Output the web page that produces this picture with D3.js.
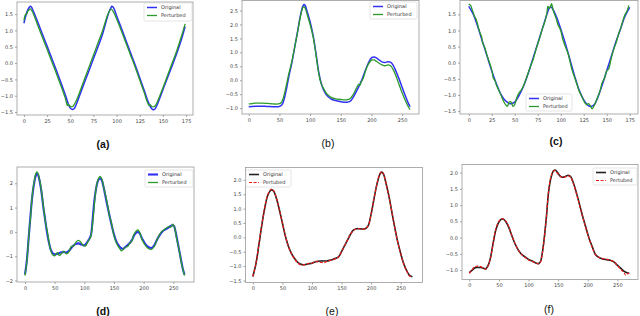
<!DOCTYPE html>
<html lang="en">
<head>
<meta charset="UTF-8">
<script src="https://d3js.org/d3.v7.min.js"></script>
<title>Original vs Perturbed</title>
<style>
    body { margin: 0; background: white; }
    svg { display: block; }
    .tick text { font-family: "DejaVu Sans", sans-serif; font-size: 5px; fill: #444; }
    .legend text { font-family: "DejaVu Sans", sans-serif; font-size: 5px; fill: #333; }
    .plabel { font-family: "Liberation Sans", Arial, sans-serif; font-size: 10.5px; fill: #111; }
</style>
</head>
<body>
<svg id="chart" width="640" height="316"></svg>
<script>
// ---- data ----
const aOriginal = [[0,1.22],[2,1.45],[4,1.62],[6,1.72],[7,1.74],[8,1.72],[10,1.6],[15,1.25],[20,0.88],[25,0.52],[30,0.15],[35,-0.22],[40,-0.6],[45,-1.0],[48,-1.26],[50,-1.38],[52,-1.42],[54,-1.4],[56,-1.3],[60,-1.0],[65,-0.62],[70,-0.25],[75,0.13],[80,0.5],[85,0.9],[89,1.3],[92,1.58],[94,1.7],[95,1.74],[97,1.68],[100,1.45],[105,1.08],[110,0.7],[115,0.32],[120,-0.05],[125,-0.45],[130,-0.85],[134,-1.18],[137,-1.36],[139,-1.42],[141,-1.42],[143,-1.33],[146,-1.12],[150,-0.82],[155,-0.45],[160,-0.08],[165,0.3],[170,0.72],[174,1.12]];
const aPerturbed = [[0,1.3],[1,1.44],[2,1.5],[3,1.5],[4,1.58],[6,1.64],[7,1.66],[9,1.58],[12,1.38],[15,1.15],[20,0.78],[25,0.42],[30,0.05],[35,-0.32],[40,-0.7],[44,-1.02],[46,-1.22],[47,-1.3],[48,-1.26],[49,-1.3],[51,-1.34],[53,-1.32],[56,-1.18],[60,-0.9],[65,-0.52],[70,-0.14],[75,0.24],[80,0.62],[85,1.0],[88,1.28],[90,1.45],[92,1.58],[94,1.65],[96,1.6],[99,1.42],[105,1.0],[110,0.62],[115,0.25],[120,-0.12],[125,-0.52],[130,-0.92],[133,-1.18],[135,-1.3],[136,-1.27],[138,-1.33],[140,-1.34],[142,-1.3],[145,-1.12],[150,-0.76],[155,-0.38],[160,0.0],[165,0.38],[170,0.82],[174,1.2]];

const bOriginal = [[0,-0.95],[10,-0.93],[20,-0.93],[30,-0.94],[40,-0.95],[48,-0.95],[52,-0.92],[55,-0.85],[58,-0.65],[62,-0.25],[66,0.2],[70,0.6],[75,1.2],[80,1.8],[84,2.3],[88,2.65],[90,2.72],[92,2.68],[96,2.4],[100,2.1],[105,1.6],[110,0.9],[114,0.3],[118,-0.1],[122,-0.35],[126,-0.5],[130,-0.6],[135,-0.68],[140,-0.72],[150,-0.77],[160,-0.79],[165,-0.76],[170,-0.62],[175,-0.42],[180,-0.2],[185,0.05],[190,0.35],[195,0.62],[200,0.8],[204,0.83],[208,0.8],[213,0.72],[218,0.65],[222,0.64],[227,0.66],[231,0.65],[235,0.55],[240,0.32],[245,0.05],[250,-0.25],[255,-0.55],[260,-0.82],[263,-0.95]];
const bPerturbed = [[0,-0.85],[5,-0.84],[10,-0.82],[20,-0.82],[30,-0.83],[40,-0.85],[48,-0.85],[52,-0.82],[55,-0.72],[58,-0.5],[62,-0.1],[66,0.3],[70,0.65],[75,1.2],[80,1.78],[84,2.25],[88,2.6],[90,2.64],[92,2.58],[96,2.3],[100,2.0],[105,1.55],[110,0.85],[114,0.25],[118,-0.12],[122,-0.3],[126,-0.45],[130,-0.55],[135,-0.62],[140,-0.66],[150,-0.69],[160,-0.7],[165,-0.66],[170,-0.52],[174,-0.35],[177,-0.22],[179,-0.15],[181,-0.18],[183,-0.08],[187,0.1],[191,0.38],[195,0.58],[200,0.72],[204,0.73],[208,0.68],[213,0.6],[218,0.54],[222,0.52],[227,0.55],[231,0.52],[235,0.4],[240,0.15],[245,-0.15],[250,-0.45],[255,-0.72],[260,-0.95],[263,-1.05]];

const cOriginal = [[0,1.75],[5,1.5],[10,1.1],[15,0.65],[20,0.2],[25,-0.25],[30,-0.65],[35,-0.98],[40,-1.18],[45,-1.27],[50,-1.22],[55,-1.0],[60,-0.7],[65,-0.3],[70,0.15],[75,0.6],[80,1.05],[85,1.5],[88,1.72],[90,1.72],[95,1.45],[100,1.05],[105,0.6],[110,0.1],[115,-0.4],[120,-0.85],[125,-1.15],[130,-1.33],[133,-1.36],[137,-1.28],[140,-1.1],[145,-0.7],[150,-0.25],[155,0.2],[160,0.65],[165,1.05],[170,1.45],[175,1.72]];
const cPerturbed = [[0,1.82],[2,1.78],[4,1.62],[5,1.55],[6,1.45],[8,1.35],[10,1.15],[12,0.95],[14,0.8],[15,0.62],[17,0.5],[20,0.22],[22,0.05],[25,-0.22],[27,-0.5],[28,-0.52],[30,-0.68],[33,-0.88],[35,-1.0],[38,-1.2],[40,-1.3],[42,-1.35],[44,-1.22],[46,-1.22],[48,-1.35],[50,-1.3],[52,-1.1],[55,-0.92],[57,-0.85],[60,-0.68],[63,-0.45],[65,-0.28],[68,-0.05],[70,0.1],[73,0.4],[75,0.58],[78,0.85],[80,1.05],[83,1.3],[85,1.55],[86,1.75],[87,1.72],[88,1.68],[89,1.75],[90,1.83],[92,1.6],[95,1.38],[97,1.18],[100,1.0],[102,0.75],[105,0.5],[108,0.28],[110,0.05],[112,-0.2],[115,-0.45],[118,-0.7],[120,-0.88],[123,-1.05],[125,-1.18],[128,-1.3],[130,-1.27],[132,-1.32],[134,-1.43],[136,-1.35],[138,-1.22],[140,-1.08],[143,-0.85],[145,-0.62],[148,-0.45],[150,-0.25],[152,-0.2],[155,0.15],[158,0.45],[160,0.6],[163,0.9],[165,1.05],[168,1.35],[170,1.5],[172,1.6],[174,1.78]];

const dOriginal = [[0,-1.75],[3,-1.2],[6,-0.3],[9,0.6],[12,1.4],[15,1.95],[18,2.3],[20,2.4],[22,2.35],[25,2.05],[28,1.6],[31,1.0],[34,0.5],[37,0.0],[40,-0.4],[43,-0.7],[46,-0.85],[50,-0.92],[55,-0.9],[60,-0.85],[65,-0.82],[70,-0.85],[75,-0.75],[80,-0.6],[85,-0.5],[90,-0.47],[95,-0.52],[100,-0.55],[104,-0.45],[108,-0.3],[111,-0.15],[114,0.5],[117,1.3],[120,1.8],[123,2.1],[126,2.2],[129,2.15],[132,1.9],[135,1.55],[140,0.95],[145,0.4],[150,-0.1],[155,-0.45],[160,-0.62],[165,-0.7],[170,-0.6],[175,-0.5],[180,-0.35],[185,-0.1],[190,0.0],[193,-0.05],[198,-0.3],[203,-0.5],[208,-0.62],[213,-0.66],[218,-0.55],[223,-0.3],[228,-0.1],[233,0.05],[238,0.12],[243,0.2],[248,0.27],[251,0.25],[254,0.0],[258,-0.5],[262,-1.0],[266,-1.5],[269,-1.75]];
const dPerturbed = [[0,-1.8],[3,-1.25],[6,-0.3],[8,0.3],[9,0.5],[12,1.45],[15,2.0],[18,2.38],[20,2.47],[22,2.4],[25,2.1],[28,1.65],[31,1.05],[34,0.5],[36,0.2],[37,0.1],[40,-0.35],[43,-0.72],[46,-0.92],[50,-0.98],[53,-0.88],[55,-0.85],[58,-0.97],[62,-0.88],[66,-0.8],[70,-0.9],[74,-0.82],[78,-0.6],[82,-0.58],[86,-0.42],[90,-0.35],[94,-0.42],[98,-0.55],[102,-0.58],[106,-0.4],[110,-0.25],[112,-0.05],[115,0.6],[118,1.4],[121,1.95],[124,2.2],[127,2.28],[130,2.15],[133,1.8],[136,1.5],[140,1.0],[143,0.6],[145,0.45],[150,-0.15],[155,-0.5],[160,-0.7],[163,-0.78],[167,-0.68],[170,-0.62],[173,-0.6],[176,-0.48],[180,-0.38],[183,-0.15],[187,0.02],[190,0.08],[193,0.0],[198,-0.35],[203,-0.55],[208,-0.68],[213,-0.72],[218,-0.6],[222,-0.35],[226,-0.15],[230,0.0],[234,0.08],[238,0.15],[242,0.22],[246,0.2],[249,0.32],[252,0.2],[256,-0.3],[260,-0.75],[264,-1.3],[267,-1.6],[269,-1.8]];

const eOriginal = [[0,-1.36],[5,-0.95],[10,-0.3],[15,0.4],[20,1.0],[25,1.45],[30,1.63],[33,1.65],[36,1.58],[40,1.35],[45,0.95],[50,0.5],[55,0.05],[60,-0.3],[65,-0.55],[70,-0.72],[75,-0.85],[80,-0.93],[85,-0.95],[90,-0.94],[95,-0.92],[100,-0.9],[105,-0.86],[110,-0.83],[115,-0.82],[120,-0.82],[125,-0.82],[130,-0.8],[135,-0.77],[140,-0.73],[145,-0.68],[150,-0.5],[155,-0.3],[160,-0.1],[165,0.1],[170,0.25],[175,0.3],[180,0.3],[185,0.29],[190,0.3],[195,0.4],[200,0.8],[205,1.35],[210,1.85],[215,2.2],[218,2.27],[221,2.2],[225,1.9],[230,1.45],[235,0.9],[240,0.35],[245,-0.15],[250,-0.55],[255,-0.9],[260,-1.15],[265,-1.32],[270,-1.37]];
const ePerturbed = [[0,-1.36],[5,-0.93],[10,-0.28],[15,0.42],[20,1.02],[25,1.47],[30,1.66],[33,1.68],[36,1.6],[40,1.36],[45,0.95],[50,0.5],[55,0.05],[60,-0.3],[65,-0.56],[70,-0.73],[75,-0.87],[80,-0.95],[85,-0.96],[90,-0.94],[95,-0.9],[100,-0.9],[105,-0.84],[110,-0.85],[115,-0.87],[120,-0.88],[125,-0.84],[130,-0.8],[135,-0.78],[140,-0.74],[145,-0.68],[150,-0.5],[155,-0.3],[160,-0.1],[165,0.1],[170,0.24],[175,0.29],[180,0.3],[185,0.28],[190,0.3],[195,0.4],[200,0.8],[205,1.35],[210,1.86],[215,2.22],[218,2.28],[221,2.21],[225,1.9],[230,1.45],[235,0.9],[240,0.35],[245,-0.15],[250,-0.56],[255,-0.92],[260,-1.16],[265,-1.34],[270,-1.38]];

const fOriginal = [[0,-1.08],[5,-1.0],[10,-0.93],[15,-0.92],[20,-0.92],[25,-0.95],[28,-0.96],[32,-0.85],[36,-0.6],[40,-0.2],[45,0.25],[50,0.48],[55,0.57],[58,0.56],[62,0.48],[67,0.3],[72,0.05],[78,-0.22],[84,-0.42],[90,-0.54],[96,-0.62],[101,-0.68],[107,-0.73],[112,-0.78],[117,-0.8],[120,-0.75],[123,-0.5],[126,-0.1],[130,0.6],[134,1.42],[138,1.85],[142,2.05],[145,2.08],[149,2.0],[153,1.9],[157,1.86],[162,1.88],[167,1.92],[171,1.88],[175,1.72],[179,1.5],[185,1.1],[191,0.68],[197,0.3],[202,-0.01],[208,-0.3],[213,-0.52],[218,-0.6],[224,-0.65],[231,-0.68],[238,-0.7],[244,-0.75],[250,-0.85],[256,-0.95],[261,-1.03],[266,-1.08],[270,-1.1]];
const fPerturbed = [[0,-1.1],[5,-0.98],[10,-0.89],[15,-0.88],[20,-0.9],[25,-0.95],[28,-0.97],[32,-0.86],[36,-0.62],[40,-0.2],[45,0.28],[50,0.5],[55,0.58],[58,0.57],[62,0.5],[67,0.32],[72,0.06],[78,-0.22],[84,-0.42],[90,-0.55],[96,-0.63],[101,-0.7],[107,-0.74],[112,-0.78],[117,-0.81],[120,-0.76],[123,-0.52],[126,-0.12],[130,0.6],[134,1.45],[138,1.88],[142,2.05],[145,2.06],[149,1.98],[153,1.9],[157,1.85],[162,1.87],[167,1.9],[171,1.86],[175,1.7],[179,1.47],[185,1.08],[191,0.66],[197,0.28],[202,-0.02],[208,-0.32],[213,-0.52],[218,-0.6],[224,-0.64],[231,-0.66],[238,-0.7],[244,-0.74],[250,-0.86],[256,-0.98],[261,-1.08],[264,-1.15],[266,-1.12],[270,-1.1]];

const ticks175 = [0, 25, 50, 75, 100, 125, 150, 175];
const ticks250 = [0, 50, 100, 150, 200, 250];
const aYTicks = [-1.5, -1.0, -0.5, 0.0, 0.5, 1.0, 1.5];
const bYTicks = [-1.0, -0.5, 0.0, 0.5, 1.0, 1.5, 2.0, 2.5];
const cYTicks = [-1.5, -1.0, -0.5, 0.0, 0.5, 1.0, 1.5];
const dYTicks = [-2, -1, 0, 1, 2];
const eYTicks = [-1.5, -1.0, -0.5, 0.0, 0.5, 1.0, 1.5, 2.0];
const fYTicks = [-1.0, -0.5, 0.0, 0.5, 1.0, 1.5, 2.0];

const namesGreen = ["Original", "Perturbed"];
const namesRed = ["Original", "Pertubed"];
const panelLabels = ["(a)", "(b)", "(c)", "(d)", "(e)", "(f)"];

// ---- styles ----
const blue = {color: "#3030f4", width: 1.5};
const blueThick = {color: "#3030f4", width: 2.1};
const green = {color: "#2a9a2a", width: 1.3};
const black = {color: "#222", width: 1.6};
const red = {color: "#f01818", width: 1.2, dash: "3,1.6"};

const panels = [
    {frame: [17, 2, 193, 115], xDom: [-7.5, 182.5], yDom: [-1.59, 1.87], xt: ticks175, yt: aYTicks, fmt: ".1f",
     series: [[aOriginal, blue], [aPerturbed, green]], names: namesGreen, legend: [144, 3, 48, 18], label: [103, 148, true]},
    {frame: [242, 0.5, 419, 114], xDom: [-11, 277.5], yDom: [-1.21, 2.86], xt: ticks250, yt: bYTicks, fmt: ".1f",
     series: [[bOriginal, blue], [bPerturbed, green]], names: namesGreen, legend: [370, 2, 47, 17], label: [328, 147, false]},
    {frame: [460, 0.5, 638, 114], xDom: [-9.5, 184], yDom: [-1.59, 1.93], xt: ticks175, yt: cYTicks, fmt: ".1f",
     series: [[cOriginal, blue], [cPerturbed, green]], names: namesGreen, legend: [526, 94, 46, 17], label: [556, 145, true]},
    {frame: [17, 167, 194, 282], xDom: [-13.5, 285], yDom: [-2.06, 2.67], xt: ticks250, yt: dYTicks, fmt: "d",
     series: [[dOriginal, blueThick], [dPerturbed, green]], names: namesGreen, legend: [145, 170, 48, 17], label: [103, 315, true]},
    {frame: [245.5, 167.5, 422.5, 282.5], xDom: [-12.4, 287], yDom: [-1.57, 2.43], xt: ticks250, yt: eYTicks, fmt: ".1f",
     series: [[eOriginal, black], [ePerturbed, red]], names: namesRed, legend: [246, 170, 45, 17], label: [332, 315, false]},
    {frame: [462, 164.5, 638, 279.5], xDom: [-12.3, 284.8], yDom: [-1.29, 2.25], xt: ticks250, yt: fYTicks, fmt: ".1f",
     series: [[fOriginal, black], [fPerturbed, red]], names: namesRed, legend: [593, 168, 44, 17], label: [549, 313, false]}
];

const svg = d3.select("#chart");

panels.forEach((p, i) => {
    const [x0, y0, x1, y1] = p.frame;
    const x = d3.scaleLinear().domain(p.xDom).range([x0, x1]);
    const y = d3.scaleLinear().domain(p.yDom).range([y1, y0]);
    const g = svg.append("g");

    const fmt = d3.format(p.fmt);

    const xAxis = g.append("g")
        .attr("transform", `translate(0,${y1})`)
        .call(d3.axisBottom(x).tickValues(p.xt).tickFormat(d3.format("d")).tickSize(2).tickPadding(2));
    const yAxis = g.append("g")
        .attr("transform", `translate(${x0},0)`)
        .call(d3.axisLeft(y).tickValues(p.yt).tickFormat(fmt).tickSize(2).tickPadding(2));
    [xAxis, yAxis].forEach(a => {
        a.select(".domain").remove();
        a.selectAll(".tick line").attr("stroke", "#666").attr("stroke-width", 0.6);
        a.attr("font-size", null).attr("font-family", null);
    });

    const clipId = "clip" + i;
    g.append("clipPath").attr("id", clipId)
        .append("rect").attr("x", x0).attr("y", y0).attr("width", x1 - x0).attr("height", y1 - y0);

    const line = d3.line()
        .x(d => x(d[0]))
        .y(d => y(d[1]))
        .curve(d3.curveCatmullRom.alpha(0.5));

    p.series.forEach(([data, st]) => {
        g.append("path")
            .datum(data)
            .attr("clip-path", `url(#${clipId})`)
            .attr("fill", "none")
            .attr("stroke", st.color)
            .attr("stroke-width", st.width)
            .attr("stroke-dasharray", st.dash || null)
            .attr("stroke-linejoin", "round")
            .attr("d", line);
    });

    // frame
    g.append("rect")
        .attr("x", x0).attr("y", y0)
        .attr("width", x1 - x0).attr("height", y1 - y0)
        .attr("fill", "none")
        .attr("stroke", "#9a9a9a")
        .attr("stroke-width", 0.8);

    // legend
    const [lx, ly, lw, lh] = p.legend;
    const leg = g.append("g").attr("class", "legend");
    leg.append("rect")
        .attr("x", lx).attr("y", ly).attr("width", lw).attr("height", lh)
        .attr("rx", 1.5)
        .attr("fill", "white").attr("fill-opacity", 0.85)
        .attr("stroke", "#d4d4d4").attr("stroke-width", 0.6);
    p.series.forEach(([data, st], k) => {
        const ry = ly + 4.5 + k * 8;
        leg.append("line")
            .attr("x1", lx + 3).attr("x2", lx + 13)
            .attr("y1", ry).attr("y2", ry)
            .attr("stroke", st.color)
            .attr("stroke-width", st.width)
            .attr("stroke-dasharray", st.dash || null);
        leg.append("text")
            .attr("x", lx + 17).attr("y", ry)
            .attr("dy", "0.35em")
            .text(p.names[k]);
    });

    // panel label
    const [tx, ty, bold] = p.label;
    svg.append("text")
        .attr("class", "plabel")
        .attr("x", tx).attr("y", ty)
        .attr("text-anchor", "middle")
        .attr("font-weight", bold ? "bold" : "normal")
        .text(panelLabels[i]);
});
</script>
</body>
</html>
